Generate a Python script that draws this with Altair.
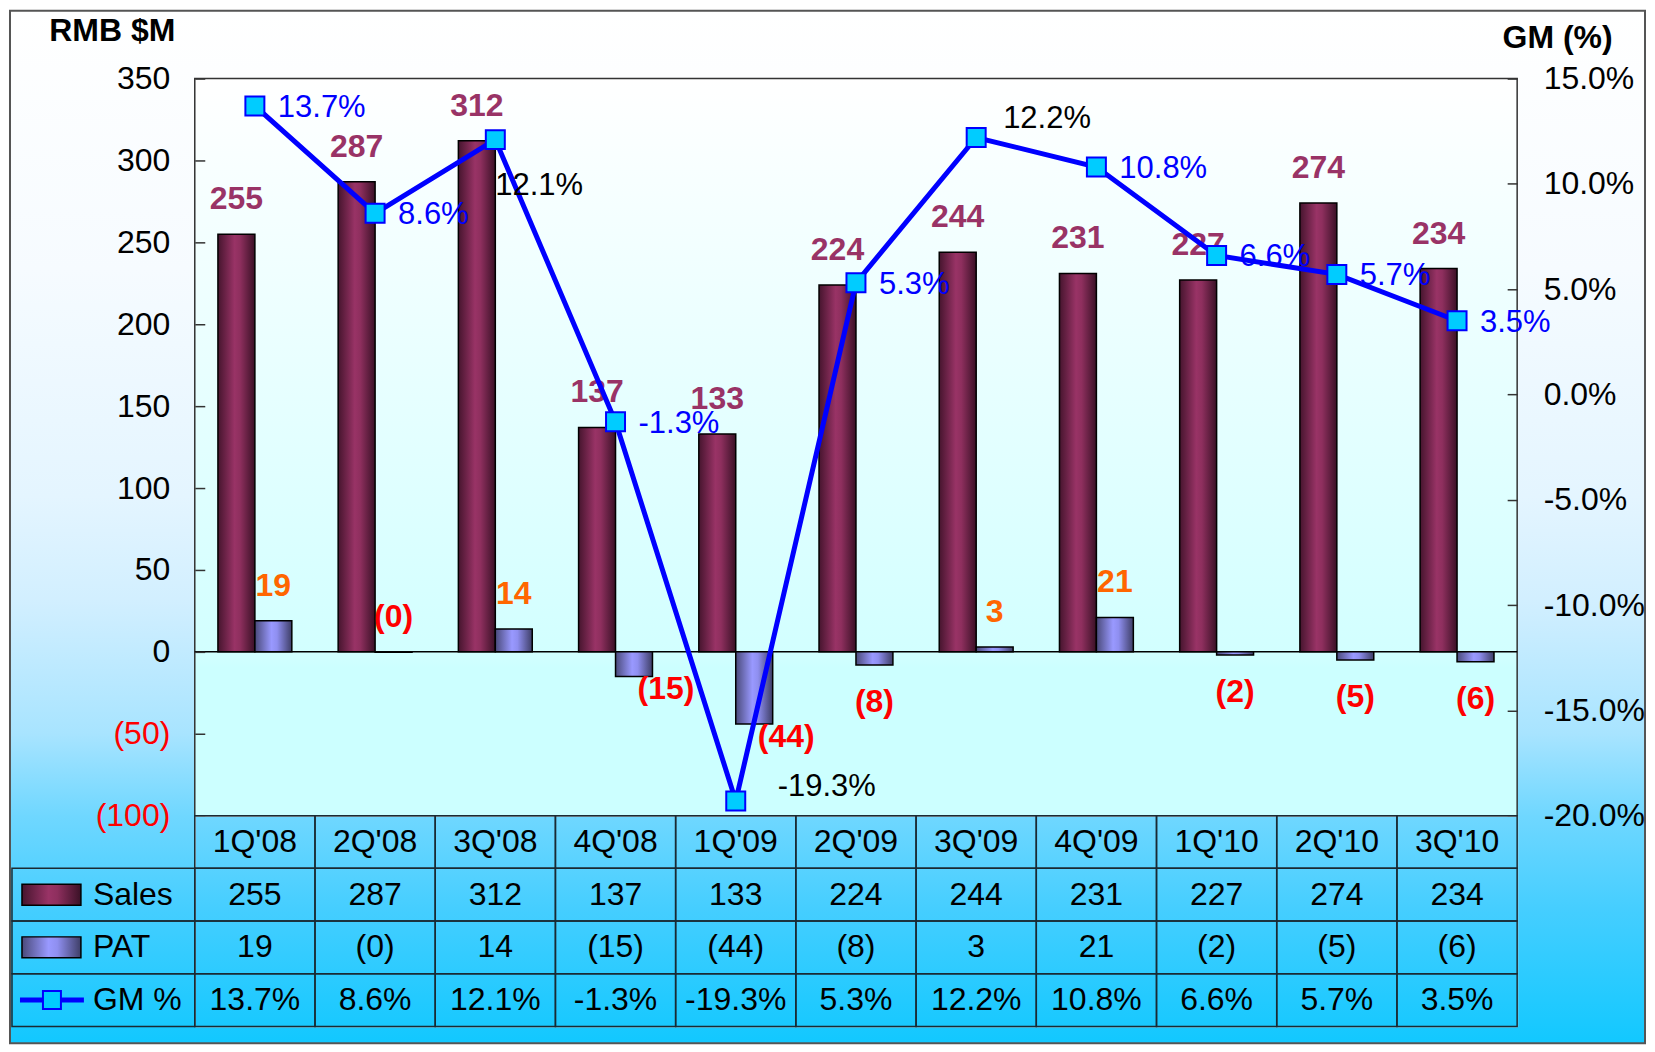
import altair as alt
import pandas as pd

# ---------------- data ----------------
quarters = ["1Q'08", "2Q'08", "3Q'08", "4Q'08", "1Q'09", "2Q'09",
            "3Q'09", "4Q'09", "1Q'10", "2Q'10", "3Q'10"]
sales = [255, 287, 312, 137, 133, 224, 244, 231, 227, 274, 234]
pat = [19, -0.3, 14, -15, -44, -8, 3, 21, -2, -5, -6]
gm = [13.7, 8.6, 12.1, -1.3, -19.3, 5.3, 12.2, 10.8, 6.6, 5.7, 3.5]
row_names = ["Sales", "PAT", "GM %"]
left_ticks = [-100, -50, 0, 50, 100, 150, 200, 250, 300, 350]
right_ticks = [-20, -15, -10, -5, 0, 5, 10, 15]


def fmt_money(v):
    r = int(round(abs(v)))
    return f"({r})" if v < 0 else f"{r}"


def fmt_pct(v):
    return f"{v:.1f}%"


bars_df = pd.DataFrame({
    "q": quarters * 2,
    "series": ["Sales"] * len(quarters) + ["PAT"] * len(quarters),
    "value": sales + pat,
    "label": [fmt_money(v) for v in sales] + [fmt_money(v) for v in pat],
})
gm_df = pd.DataFrame({"q": quarters, "gm": gm, "label": [fmt_pct(v) for v in gm]})

table_rows = []
for i, q in enumerate(quarters):
    table_rows.append({"q": q, "row": "hdr", "txt": q})
    table_rows.append({"q": q, "row": "Sales", "txt": fmt_money(sales[i])})
    table_rows.append({"q": q, "row": "PAT", "txt": fmt_money(pat[i])})
    table_rows.append({"q": q, "row": "GM %", "txt": fmt_pct(gm[i])})
table_df = pd.DataFrame(table_rows)
names_df = pd.DataFrame({"row": row_names, "name": row_names})
one = pd.DataFrame({"a": [0]})

# ---------------- styling ----------------
FONT = "Liberation Sans"
W, H = 1324, 738
TH = 211

def hgrad(stops):
    return {"gradient": "linear", "x1": 0, "y1": 0, "x2": 1, "y2": 0,
            "stops": [{"offset": o, "color": c} for o, c in stops]}

def vgrad(stops):
    return {"gradient": "linear", "x1": 0, "y1": 0, "x2": 0, "y2": 1,
            "stops": [{"offset": o, "color": c} for o, c in stops]}

sales_grad = hgrad([(0, "#46152E"), (0.45, "#993366"), (0.6, "#8E2F5E"), (1, "#3A1126")])
pat_grad = hgrad([(0, "#4A4A7A"), (0.45, "#9999FF"), (0.6, "#8F8FF0"), (1, "#3E3E66")])
outer_grad = vgrad([(0, "#FFFFFF"), (0.25, "#F6FBFF"), (0.47, "#E4F5FF"),
                    (0.57, "#D2EFFF"), (0.70, "#A8E4FF"), (0.78, "#6FD7FF"),
                    (0.87, "#45CEFF"), (1, "#12C8FF")])
plot_grad = vgrad([(0, "#FFFFFF"), (0.78, "#D2FFFF"), (0.8, "#CCFFFF"), (1, "#CCFFFF")])

xscale = alt.Scale(type="band", domain=quarters, paddingInner=0, paddingOuter=0)
xenc = alt.X("q:N", scale=xscale, axis=None)
offscale = alt.Scale(domain=["Sales", "PAT"], paddingInner=0, paddingOuter=0.627)
xoff = alt.XOffset("series:N", scale=offscale)

left_axis = alt.Axis(
    values=left_ticks,
    labelExpr="datum.value < 0 ? '(' + abs(datum.value) + ')' : '' + datum.value",
    labelColor={"condition": {"test": "datum.value < 0", "value": "#FF0000"}, "value": "#000000"},
    labelFontSize=32, labelFont=FONT, labelPadding=25, labelBaseline="middle",
    tickSize=10, offset=-10, domain=False, grid=False, tickColor="#333333", tickWidth=1.5,
    title="RMB $M", titleAngle=0, titleAlign="right", titleBaseline="middle",
    titleX=-30, titleY=-48, titleFontSize=32, titleFontWeight="bold", titleFont=FONT,
    titleColor="#000000", zindex=1,
)
right_axis = alt.Axis(
    orient="right", values=right_ticks,
    labelExpr="(datum.value < 0 ? '-' : '') + format(abs(datum.value), '.1f') + '%'",
    labelFontSize=32, labelFont=FONT, labelColor="#000000", labelPadding=26, labelBaseline="middle",
    tickSize=10, offset=-10, domain=False, grid=False, tickColor="#333333", tickWidth=1.5,
    title="GM (%)", titleAngle=0, titleAlign="center", titleBaseline="middle",
    titleX=50, titleY=-41, titleFontSize=32, titleFontWeight="bold", titleFont=FONT,
    titleColor="#000000", zindex=1,
)
yL = alt.Y("value:Q", scale=alt.Scale(domain=[-100, 350], nice=False, zero=True), axis=left_axis)
yR = alt.Y("gm:Q", scale=alt.Scale(domain=[-20, 15], nice=False, zero=True), axis=right_axis)

# ---------------- main chart ----------------
outer_bg = alt.Chart(one).mark_rect(fill=outer_grad, stroke="#555555", strokeWidth=2).encode(
    x=alt.value(-185), x2=alt.value(1452), y=alt.value(-68), y2=alt.value(966))
plot_bg = alt.Chart(one).mark_rect(fill=plot_grad, stroke="#333333", strokeWidth=1.5).encode(
    x=alt.value(0), x2=alt.value(W), y=alt.value(0), y2=alt.value(H))
zero_line = alt.Chart(one).mark_rule(color="#000000", strokeWidth=1.5).encode(
    y=alt.datum(0), x=alt.value(0), x2=alt.value(W))

base = alt.Chart(bars_df)
sales_bars = base.transform_filter(alt.datum.series == "Sales").mark_bar(
    fill=sales_grad, stroke="#000000", strokeWidth=1.5).encode(x=xenc, xOffset=xoff, y=yL)
pat_bars = base.transform_filter(alt.datum.series == "PAT").mark_bar(
    fill=pat_grad, stroke="#000000", strokeWidth=1.5).encode(x=xenc, xOffset=xoff, y=yL)

sales_lbl = base.transform_filter(alt.datum.series == "Sales").mark_text(
    font=FONT, fontSize=32, fontWeight="bold", color="#993366", baseline="middle", dy=-35
).encode(x=xenc, xOffset=xoff, y=yL, text="label:N")
pat_lbl_up = base.transform_filter("datum.series == 'PAT' && datum.value >= -0.5").mark_text(
    font=FONT, fontSize=32, fontWeight="bold", baseline="middle", dy=-35
).encode(x=xenc, xOffset=xoff, y=yL, text="label:N",
         color=alt.condition("datum.value < 0", alt.value("#FF0000"), alt.value("#FF6600")))
# short negative bars: label centred below the bar
pat_lbl_dn = base.transform_filter(
    "datum.series == 'PAT' && datum.value < -0.5 && datum.value > -10").mark_text(
    font=FONT, fontSize=32, fontWeight="bold", baseline="middle", dy=37, color="#FF0000"
).encode(x=xenc, xOffset=xoff, y=yL, text="label:N")
# long negative bars: label at the lower right of the bar
pat_lbl_dn2 = base.transform_filter(
    "datum.series == 'PAT' && datum.value <= -10").mark_text(
    font=FONT, fontSize=32, fontWeight="bold", baseline="middle", dx=32, dy=13, color="#FF0000"
).encode(x=xenc, xOffset=xoff, y=yL, text="label:N")

left = alt.layer(outer_bg, plot_bg, zero_line, sales_bars, pat_bars, sales_lbl,
                 pat_lbl_up, pat_lbl_dn, pat_lbl_dn2)

gbase = alt.Chart(gm_df)
gm_line = gbase.mark_line(color="#0000FF", strokeWidth=5).encode(x=xenc, y=yR)
gm_pts = gbase.mark_point(shape="square", size=361, filled=True, fill="#00CCFF", stroke="#0000FF",
                          strokeWidth=2, opacity=1, fillOpacity=1).encode(x=xenc, y=yR)
gm_lbl = gbase.transform_filter(
    "indexof(['3Q\\'08','1Q\\'09','3Q\\'09'], datum.q) < 0"
).mark_text(font=FONT, fontSize=31, color="#0000FF", align="left", baseline="middle", dx=23, dy=2
).encode(x=xenc, y=yR, text="label:N")
gm_lbl_a = gbase.transform_filter(alt.datum.q == "3Q'08").mark_text(
    font=FONT, fontSize=31, color="#000000", align="left", baseline="middle", dx=0, dy=46
).encode(x=xenc, y=yR, text="label:N")
gm_lbl_b = gbase.transform_filter(alt.datum.q == "1Q'09").mark_text(
    font=FONT, fontSize=31, color="#000000", align="left", baseline="middle", dx=42, dy=-14
).encode(x=xenc, y=yR, text="label:N")
gm_lbl_c = gbase.transform_filter(alt.datum.q == "3Q'09").mark_text(
    font=FONT, fontSize=31, color="#000000", align="left", baseline="middle", dx=27, dy=-19
).encode(x=xenc, y=yR, text="label:N")

right = alt.layer(gm_line, gm_pts, gm_lbl, gm_lbl_a, gm_lbl_b, gm_lbl_c)

main = alt.layer(left, right).resolve_scale(y="independent").properties(width=W, height=H)

# ---------------- data table ----------------
row_order = ["hdr"] + row_names
xT = alt.X("q:N", scale=alt.Scale(type="band", domain=quarters, paddingInner=0, paddingOuter=0), axis=None)
yT = alt.Y("row:N", scale=alt.Scale(type="band", domain=row_order, paddingInner=0, paddingOuter=0), axis=None)
TSTROKE = "#1A2A33"

cells = alt.Chart(table_df).mark_rect(fill="transparent", stroke=TSTROKE, strokeWidth=1.5).encode(x=xT, y=yT)
cell_txt = alt.Chart(table_df).mark_text(font=FONT, fontSize=32, color="#000000", baseline="middle").encode(
    x=xT, y=yT, text="txt:N")
name_cells = alt.Chart(names_df).mark_rect(fill="transparent", stroke=TSTROKE, strokeWidth=1.5).encode(
    y=yT, x=alt.value(-183), x2=alt.value(0))
name_txt = alt.Chart(names_df).mark_text(font=FONT, fontSize=32, color="#000000", align="left",
                                         baseline="middle").encode(y=yT, x=alt.value(-102), text="name:N")
sw_sales = alt.Chart(names_df).transform_filter(alt.datum.row == "Sales").mark_bar(
    height=21, fill=sales_grad, stroke="#000000", strokeWidth=1.5).encode(
    y=yT, x=alt.value(-173), x2=alt.value(-114))
sw_pat = alt.Chart(names_df).transform_filter(alt.datum.row == "PAT").mark_bar(
    height=21, fill=pat_grad, stroke="#000000", strokeWidth=1.5).encode(
    y=yT, x=alt.value(-173), x2=alt.value(-114))
sw_line = alt.Chart(names_df).transform_filter(alt.datum.row == "GM %").mark_rule(
    color="#0000FF", strokeWidth=5).encode(y=yT, x=alt.value(-175), x2=alt.value(-111))
sw_pt = alt.Chart(names_df).transform_filter(alt.datum.row == "GM %").mark_point(
    shape="square", size=324, filled=True, fill="#00CCFF", stroke="#0000FF", strokeWidth=2,
    opacity=1, fillOpacity=1).encode(y=yT, x=alt.value(-143))

table = alt.layer(cells, cell_txt, name_cells, name_txt, sw_sales, sw_pat, sw_line, sw_pt).properties(
    width=W, height=TH)

chart = alt.vconcat(main, table, spacing=0, bounds="flush").resolve_scale(
    x="independent", y="independent").properties(padding=0).configure_view(stroke=None).configure(font=FONT)

chart.save("out.html", embed_options={"renderer": "svg", "actions": False})
